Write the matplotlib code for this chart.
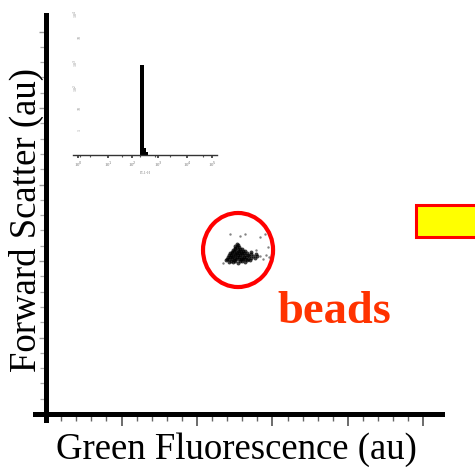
import matplotlib
matplotlib.use('Agg')
import matplotlib.pyplot as plt
from matplotlib.patches import Ellipse, Rectangle

plt.rcParams['font.family'] = ['Liberation Serif', 'DejaVu Serif']

# bead cluster (channel units of the main dot plot)
bead_x = [
    11.95, 12.1, 12.25, 12.4, 12.55, 12.7, 12.85, 13.0, 13.15, 13.3, 13.5,
    12.0, 12.15, 12.3, 12.45, 12.6, 12.75, 12.9, 13.05, 13.2, 13.4, 13.6, 13.85,
    12.05, 12.2, 12.35, 12.5, 12.65, 12.8, 12.95, 13.1, 13.25, 13.45, 13.7, 14.0,
    12.1, 12.25, 12.4, 12.55, 12.7, 12.85, 13.0, 13.15, 13.35, 13.6, 13.9,
    12.2, 12.35, 12.5, 12.65, 12.8, 12.95, 13.1, 13.3, 13.55,
    12.3, 12.45, 12.6, 12.75, 12.9, 13.05, 13.2,
    12.4, 12.55, 12.7, 12.85, 13.0,
    12.5, 12.65, 12.8,
    12.55, 12.7,
    12.65,
]
bead_y = [
    10.05, 9.95, 10.0, 9.92, 9.97, 9.9, 9.98, 10.02, 9.95, 10.05, 10.08,
    10.12, 10.1, 10.15, 10.08, 10.12, 10.1, 10.14, 10.1, 10.13, 10.16, 10.18, 10.2,
    10.25, 10.24, 10.27, 10.22, 10.25, 10.26, 10.23, 10.25, 10.28, 10.3, 10.32, 10.35,
    10.38, 10.4, 10.36, 10.38, 10.4, 10.37, 10.39, 10.4, 10.42, 10.45, 10.48,
    10.5, 10.52, 10.49, 10.5, 10.53, 10.5, 10.52, 10.55, 10.58,
    10.62, 10.63, 10.6, 10.64, 10.62, 10.65, 10.66,
    10.75, 10.76, 10.74, 10.77, 10.78,
    10.88, 10.9, 10.89,
    11.0, 11.02,
    11.14,
]

# sparse events around the cluster
stray_x = [14.2, 14.4, 14.6, 14.8, 12.2, 12.85, 13.2, 14.2, 14.5, 14.7, 11.7, 13.9]
stray_y = [10.3, 10.15, 10.4, 10.25, 11.75, 11.65, 11.75, 11.6, 11.75, 10.9, 9.9, 10.75]

# inset histogram
hist_left = [476, 490, 504, 518]
hist_counts = [620, 620, 45, 18]
inset_labels = ['10$^0$', '10$^1$', '10$^2$', '10$^3$', '10$^4$', '10$^5$']
inset_label_pos = [36, 249, 420, 604, 811, 988]

fig = plt.figure(figsize=(4.75, 4.72), dpi=100)
fig.patch.set_facecolor('white')

ax = fig.add_axes([35 / 475, 52 / 472, 407 / 475, 405 / 472])
ax.set_xlim(-0.73, 26.23)
ax.set_ylim(-0.39, 26.08)
for s in ['top', 'right']:
    ax.spines[s].set_visible(False)
ax.spines['left'].set_position(('data', 0))
ax.spines['bottom'].set_position(('data', 0))
for s in ['left', 'bottom']:
    ax.spines[s].set_linewidth(3.6)
    ax.spines[s].set_color('black')

ax.set_xticks([5, 10, 15, 20, 25])
ax.set_xticks([v for v in range(1, 25) if v % 5], minor=True)
ax.set_yticks([5, 10, 15, 20, 25])
ax.set_yticks([v for v in range(1, 25) if v % 5], minor=True)
ax.set_xticklabels([])
ax.set_yticklabels([])
ax.tick_params(axis='x', which='major', direction='out', length=8.5, width=1.1, color='#444444')
ax.tick_params(axis='x', which='minor', direction='out', length=5, width=1.0, color='#666666')
ax.tick_params(axis='y', which='major', direction='out', length=5, width=1.0, color='#999999')
ax.tick_params(axis='y', which='minor', direction='out', length=4, width=0.9, color='#aaaaaa')

ax.scatter(bead_x, bead_y, s=8, color='black', linewidths=0, alpha=0.75)
ax.scatter(stray_x, stray_y, s=3, color='#666666', linewidths=0, alpha=0.8)
ax.add_patch(Ellipse((12.72, 10.72), 4.64, 4.84, fill=False, edgecolor='#ff0000', linewidth=3))

# inset histogram
ax_in = fig.add_axes([73 / 475, 317 / 472, 144 / 475, 145 / 472])
ax_in.patch.set_alpha(0)
ax_in.bar(hist_left, hist_counts, width=14, align='edge', color='black')
ax_in.set_xlim(0, 1024)
ax_in.set_ylim(0, 1000)
for s in ['top', 'right', 'left']:
    ax_in.spines[s].set_visible(False)
ax_in.spines['bottom'].set_linewidth(1.0)
ax_in.spines['bottom'].set_color('#333333')
ax_in.set_xticks(inset_label_pos)
ax_in.set_xticklabels(inset_labels, fontsize=3.5, color='#777777')
ax_in.set_xticks([50, 121, 348, 476, 583, 690, 924], minor=True)
ax_in.tick_params(axis='x', which='major', length=2.5, width=1.2, color='#333333', pad=1)
ax_in.tick_params(axis='x', which='minor', length=1.5, width=0.8, color='#555555')
ax_in.set_xlabel('FL1-H', fontsize=3, color='#888888', labelpad=1)
ax_in.set_yticks([172, 331, 469, 641, 814, 979])
ax_in.set_yticklabels(['1', '10', '10$^2$', '10$^3$', '10', '10$^4$'], fontsize=3, color='#888888', rotation=90)
ax_in.tick_params(axis='y', length=0, pad=-6)

fig.text(236 / 475, 1 - 450 / 472, 'Green Fluorescence (au)', fontsize=26.5,
         ha='center', va='center')
fig.text(26 / 475, 1 - 220 / 472, 'Forward Scatter (au)', fontsize=26.5,
         ha='center', va='center', rotation=90)
fig.text(334 / 475, 1 - 323 / 472, 'beads', fontsize=33.5, fontweight='bold',
         color='#ff3300', ha='center', va='baseline')

fig.add_artist(Rectangle((416 / 475, 1 - 237 / 472), 80 / 475, 32 / 472,
                         transform=fig.transFigure, facecolor='#ffff00',
                         edgecolor='#ff0000', linewidth=2.2))

fig.savefig('out.png', dpi=100)
